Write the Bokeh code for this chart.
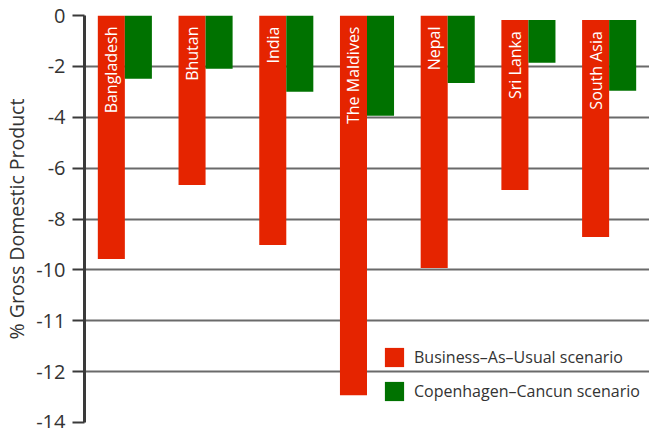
from math import pi
from bokeh.plotting import figure
from bokeh.models import ColumnDataSource, Range1d, FixedTicker, Legend, LegendItem
from bokeh.transform import dodge
from bokeh.core.properties import value
from bokeh.embed import file_html
from bokeh.resources import INLINE

# ---- data ----
countries = ["Bangladesh", "Bhutan", "India", "The Maldives", "Nepal", "Sri Lanka", "South Asia"]
bar_start = [0, 0, 0, 0, 0, -0.18, -0.18]
business_as_usual = [-9.57, -6.66, -9.02, -14.93, -9.93, -6.86, -8.71]
copenhagen_cancun = [-2.49, -2.09, -3.00, -3.94, -2.65, -1.86, -2.96]
y_tick_values = [0, -2, -4, -6, -8, -10, -12, -14, -16]
y_tick_labels = ["0", "-2", "-4", "-6", "-8", "-10", "-11", "-12", "-14"]
series_names = ["Business\u2013As\u2013Usual scenario", "Copenhagen\u2013Cancun scenario"]

RED = "#e52400"
GREEN = "#007200"
FONT = "Open Sans"

src = ColumnDataSource(dict(country=countries, start=bar_start,
                            bau=business_as_usual, cc=copenhagen_cancun))

p = figure(x_range=countries, y_range=Range1d(-16, 0),
           width=649, height=428, output_backend="svg", toolbar_location=None,
           x_axis_location=None, min_border_left=84, min_border_right=0,
           min_border_top=15, min_border_bottom=6)
p.outline_line_color = None
p.background_fill_color = "white"

bw = 0.335
r1 = p.vbar(x=dodge("country", -bw / 2, range=p.x_range), top="start", bottom="bau",
            width=bw, source=src, fill_color=RED, line_color=None)
r2 = p.vbar(x=dodge("country", bw / 2, range=p.x_range), top="start", bottom="cc",
            width=bw, source=src, fill_color=GREEN, line_color=None)

p.text(x=dodge("country", -bw / 2, range=p.x_range), y="start", text="country", source=src,
       angle=pi / 2, text_align="right", text_baseline="middle", y_offset=11,
       text_color="white", text_font=value(FONT), text_font_size="16px")

# y axis
ax = p.yaxis[0]
ax.ticker = FixedTicker(ticks=y_tick_values)
ax.major_label_overrides = {v: l for v, l in zip(y_tick_values, y_tick_labels)}
ax.major_label_text_font = FONT
ax.major_label_text_font_size = "20px"
ax.major_label_text_color = "#333333"
ax.major_label_standoff = 7
ax.major_tick_out = 12
ax.major_tick_in = 0
ax.minor_tick_out = 0
ax.minor_tick_in = 0
ax.major_tick_line_color = "#3a3a3a"
ax.major_tick_line_width = 2
ax.axis_line_color = "#3a3a3a"
ax.axis_line_width = 3
ax.axis_label = "% Gross Domestic Product"
ax.axis_label_text_font = FONT
ax.axis_label_text_font_size = "19.5px"
ax.axis_label_text_font_style = "normal"
ax.axis_label_text_color = "#333333"
ax.axis_label_standoff = 3

p.xgrid.grid_line_color = None
p.ygrid.ticker = FixedTicker(ticks=y_tick_values)
p.ygrid.grid_line_color = "#6a6a6a"
p.ygrid.grid_line_width = 2

legend = Legend(items=[LegendItem(label=series_names[0], renderers=[r1]),
                       LegendItem(label=series_names[1], renderers=[r2])],
                location=(298, 19), padding=0, margin=0, spacing=10,
                glyph_width=24, glyph_height=24, label_standoff=8, label_height=24,
                label_text_font=FONT, label_text_font_size="16px",
                label_text_color="#333333", border_line_color=None,
                background_fill_alpha=0)
p.add_layout(legend)

open("out.html", "w").write(file_html(p, INLINE))
